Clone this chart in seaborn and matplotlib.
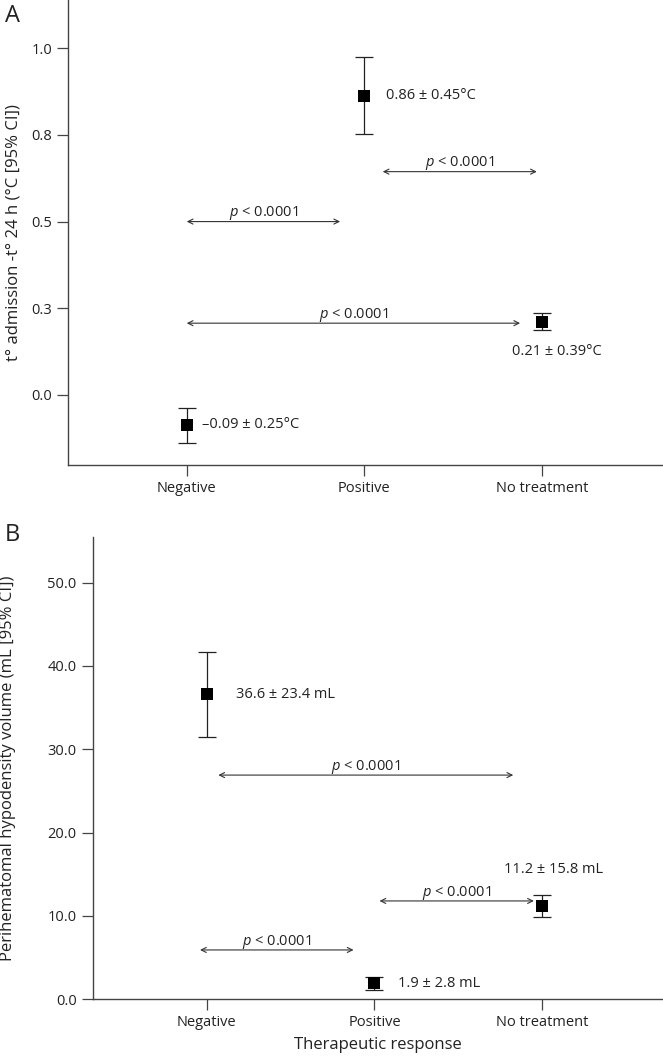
"""
治疗反应 vs 体温变化 / 血肿周围低密度体积
"""
import matplotlib
matplotlib.use('Agg')
import matplotlib.pyplot as plt
import seaborn as sns
import pandas as pd

groups = ['Negative', 'Positive', 'No treatment']

# A: t° admission - t° 24 h
temp_mean = [-0.086, 0.863, 0.211]
temp_lo = [-0.139, 0.752, 0.188]
temp_hi = [-0.038, 0.974, 0.237]
temp_text = ['–0.09 ± 0.25°C', '0.86 ± 0.45°C', '0.21 ± 0.39°C']

# B: perihematomal hypodensity volume
vol_mean = [36.6, 1.92, 11.24]
vol_lo = [31.44, 1.1, 9.9]
vol_hi = [41.64, 2.7, 12.5]
vol_text = ['36.6 ± 23.4 mL', '1.9 ± 2.8 mL', '11.2 ± 15.8 mL']

# 显著性比较 (x0, x1, y)
temp_pairs = [(0.0, 0.864, 0.5), (1.104, 1.972, 0.644), (0.0, 1.878, 0.207)]
vol_pairs = [(0.069, 1.827, 26.9), (-0.04, 0.875, 5.92), (1.03, 1.95, 11.8)]
p_text = r'$\mathit{p}$ < 0.0001'

sns.set_theme(style='ticks')
plt.rcParams['font.family'] = ['Open Sans', 'DejaVu Sans']
plt.rcParams['mathtext.fontset'] = 'custom'
plt.rcParams['mathtext.it'] = 'Open Sans:italic'
plt.rcParams['mathtext.rm'] = 'Open Sans'

LINE = '#444444'
TXT = '#222222'
FS = 10.5

fig = plt.figure(figsize=(6.63, 10.63), dpi=100)
axA = fig.add_axes([68 / 663, 1 - 465 / 1063, 1 - 68 / 663, 465 / 1063])
axB = fig.add_axes([92.7 / 663, 1 - 999.3 / 1063, 1 - 92.7 / 663, (999.3 - 536.7) / 1063])


def draw_panel(ax, mean, lo, hi, texts, pairs, text_offsets, text_align):
    df = pd.DataFrame({'x': range(len(groups)), 'y': mean})
    yerr = [[m - l for m, l in zip(mean, lo)], [h - m for m, h in zip(mean, hi)]]
    ax.errorbar(df['x'], df['y'], yerr=yerr, fmt='none', ecolor='#222222',
                elinewidth=0.9, capsize=6.5, capthick=0.9, zorder=2)
    sns.scatterplot(data=df, x='x', y='y', marker='s', s=85, color='black',
                    edgecolor='black', linewidth=0, ax=ax, zorder=3, legend=False)
    for i, t in enumerate(texts):
        ax.annotate(t, (i, mean[i]), xytext=text_offsets[i], textcoords='offset points',
                    ha=text_align[i], va='center', fontsize=FS, color=TXT)
    for x0, x1, y in pairs:
        ax.annotate('', xy=(x1, y), xytext=(x0, y),
                    arrowprops=dict(arrowstyle='<->', lw=0.8, color='#333333',
                                    shrinkA=0, shrinkB=0, mutation_scale=9))
        ax.annotate(p_text, ((x0 + x1) / 2, y), xytext=(0, -0.5), textcoords='offset points',
                    ha='center', va='bottom', fontsize=FS, color=TXT)
    ax.set_xticks(range(len(groups)))
    ax.set_xticklabels(groups)
    sns.despine(ax=ax)
    for s in ['left', 'bottom']:
        ax.spines[s].set_color(LINE)
        ax.spines[s].set_linewidth(1.0)
    ax.tick_params(length=8, width=0.9, color=LINE, labelsize=FS, labelcolor=TXT)


draw_panel(axA, temp_mean, temp_lo, temp_hi, temp_text, temp_pairs,
           [(11, 0), (16, 0), (11, -21.5)], ['left', 'left', 'center'])
axA.set_xlim(-0.669, 2.683)
axA.set_ylim(-0.202, 1.139)
axA.set_yticks([0, 0.25, 0.5, 0.75, 1.0])
axA.set_yticklabels(['0.0', '0.3', '0.5', '0.8', '1.0'])
axA.set_xlabel('')
axA.set_ylabel('t° admission -t° 24 h (°C [95% CI])', fontsize=12, color=TXT)
axA.yaxis.set_label_coords(-0.078, 0.5)

draw_panel(axB, vol_mean, vol_lo, vol_hi, vol_text, vol_pairs,
           [(21, 0), (17, 0), (8, 26)], ['left', 'left', 'center'])
axB.set_xlim(-0.68, 2.72)
axB.set_ylim(0, 55.5)
axB.set_yticks([0, 10, 20, 30, 40, 50])
axB.set_yticklabels([f'{v:.1f}' for v in [0, 10, 20, 30, 40, 50]])
axB.set_xlabel('Therapeutic response', fontsize=12, color=TXT, labelpad=5)
axB.set_ylabel('Perihematomal hypodensity volume (mL [95% CI])', fontsize=12, color=TXT)
axB.yaxis.set_label_coords(-0.135, 0.5)

fig.text(12 / 663, 1 - 16 / 1063, 'A', fontsize=17, ha='center', va='center', color=TXT)
fig.text(12 / 663, 1 - 535 / 1063, 'B', fontsize=17, ha='center', va='center', color=TXT)

plt.savefig('out.png', dpi=100)
